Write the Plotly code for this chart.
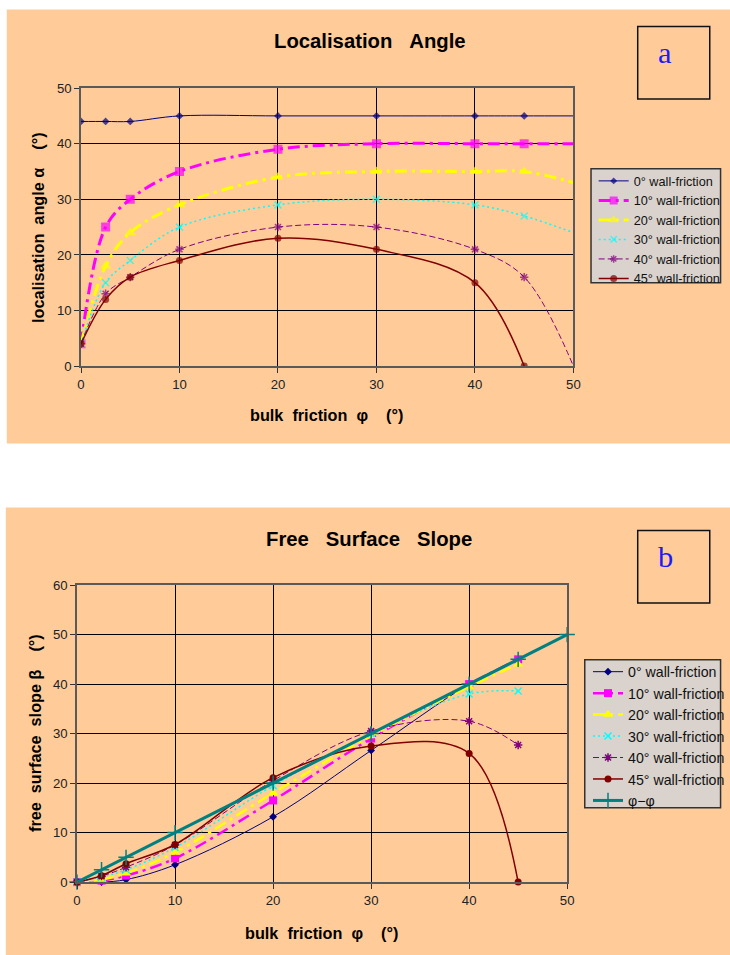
import plotly.graph_objects as go

W, H = 730, 955

# ---------------- data: panel a (localisation angle) ----------------
phi_a = [0, 2.5, 5, 10, 20, 30, 40, 45, 50]
alpha_0 = [44, 44, 44, 45, 45, 45, 45, 45, 45]
alpha_10 = [4, 25, 30, 35, 39, 40, 40, 40, 40]
alpha_20 = [4, 18, 24, 29, 34, 35, 35, 35, 33]
alpha_30 = [4, 15, 19, 25, 29, 30, 29, 27, 24]
alpha_40 = [4, 13, 16, 21, 25, 25, 21, 16, 0]
phi_a45 = [0, 2.5, 5, 10, 20, 30, 40, 45]
alpha_45 = [4, 12, 16, 19, 23, 21, 15, 0]
marked_a = [True, True, True, True, True, True, True, True, False]

# ---------------- data: panel b (free surface slope) ----------------
phi_b = [0, 2.5, 5, 10, 20, 30, 40, 45]
beta_0 = [0, 0, 0.5, 3.5, 13.2, 26.6, 40, 45]
beta_10 = [0, 0.3, 1.3, 4.8, 16.5, 29, 40, 45]
beta_20 = [0, 0.5, 1.8, 6, 18, 29.5, 39.5, 44]
beta_30 = [0, 1, 2.5, 7, 19.5, 30, 38, 38.6]
beta_40 = [0, 1.2, 3, 7.5, 20.5, 30.5, 32.5, 27.7]
beta_45 = [0, 1.3, 3.7, 7.6, 21.1, 27.5, 26, 0]
phi_line = [0, 2.5, 5, 10, 20, 30, 40, 45, 50]
beta_phi = [0, 2.5, 5, 10, 20, 30, 40, 45, 50]

legend_names = ["0° wall-friction", "10° wall-friction", "20° wall-friction",
                "30° wall-friction", "40° wall-friction", "45° wall-friction"]

FONT = "Liberation Sans, Arial, sans-serif"
PEACH = "#FFCC99"

# screen-capture compensation (measured): seen = S * page + O
SX, OX = 0.983, 3.2
SY, OY = 0.9843, 6.6
FS = 1 / 0.985


def px_x(r):
    return ((r - OX) / SX) / W


def px_y(r):
    return 1 - ((r - OY) / SY) / H


def fs(v):
    return round(v * FS, 2)


styles = [
    dict(color="#000080", width=1, dash="solid", symbol="diamond", size=6, mlw=0),
    dict(color="#FF00FF", width=3, dash="12px,5px,3px,5px", symbol="square", size=9, mlw=0),
    dict(color="#FFFF00", width=3, dash="12px,5px,3px,5px", symbol="triangle-up", size=10, mlw=0),
    dict(color="#00FFFF", width=1.5, dash="2px,3px", symbol="x-thin-open", size=7, mlw=1.5),
    dict(color="#800080", width=1, dash="6px,3px", symbol="asterisk-open", size=7, mlw=1.5),
    dict(color="#800000", width=1.5, dash="solid", symbol="circle", size=7, mlw=0),
]

fig = go.Figure()

series_a = [(phi_a, alpha_0), (phi_a, alpha_10), (phi_a, alpha_20),
            (phi_a, alpha_30), (phi_a, alpha_40), (phi_a45, alpha_45)]
for (xs, ys), name, st in zip(series_a, legend_names, styles):
    sizes = [st["size"] if (i >= len(marked_a) or marked_a[i]) else 0 for i in range(len(xs))]
    fig.add_trace(go.Scatter(
        x=xs, y=ys, name=name, mode="lines+markers",
        line=dict(color=st["color"], width=st["width"], dash=st["dash"], shape="spline", smoothing=1),
        marker=dict(symbol=st["symbol"], size=sizes, color=st["color"],
                    line=dict(color=st["color"], width=st["mlw"])),
        xaxis="x", yaxis="y", legend="legend", cliponaxis=True))

series_b = [beta_0, beta_10, beta_20, beta_30, beta_40, beta_45]
for ys, name, st in zip(series_b, legend_names, styles):
    sz = st["size"] - 1 if st["size"] >= 9 else st["size"]
    fig.add_trace(go.Scatter(
        x=phi_b, y=ys, name=name, mode="lines+markers",
        line=dict(color=st["color"], width=st["width"] if st["width"] < 3 else 2.5,
                  dash=st["dash"], shape="spline", smoothing=1),
        marker=dict(symbol=st["symbol"], size=sz, color=st["color"],
                    line=dict(color=st["color"], width=st["mlw"])),
        xaxis="x2", yaxis="y2", legend="legend2", cliponaxis=False))

fig.add_trace(go.Scatter(
    x=phi_line, y=beta_phi, name="φ−φ", mode="lines+markers",
    line=dict(color="#008080", width=3),
    marker=dict(symbol="cross-thin-open", size=11, color="#008080",
                line=dict(color="#008080", width=1.5)),
    xaxis="x2", yaxis="y2", legend="legend2", cliponaxis=False))

axis_common = dict(
    showgrid=True, gridcolor="#000000", gridwidth=1, zeroline=False,
    showline=True, linecolor="#5a5a5a", linewidth=1.5, mirror=True,
    ticks="outside", ticklen=5, tickcolor="#333333", tickwidth=1,
    tickfont=dict(family=FONT, size=fs(13), color="#222222"), dtick=10,
    fixedrange=True,
)

fig.update_layout(
    width=W, height=H, autosize=False,
    margin=dict(l=0, r=0, t=0, b=0),
    paper_bgcolor="white", plot_bgcolor="#C0C0C0",
    hovermode=False,
    xaxis=dict(axis_common, domain=[px_x(80.7), px_x(576.3)], range=[0, 50], anchor="y"),
    yaxis=dict(axis_common, domain=[px_y(365.7), px_y(87.7)], range=[0, 50], anchor="x"),
    xaxis2=dict(axis_common, domain=[px_x(76.7), px_x(570)], range=[0, 50], anchor="y2"),
    yaxis2=dict(axis_common, domain=[px_y(881.7), px_y(584.7)], range=[0, 60], anchor="x2"),
    legend=dict(x=px_x(636) - 40 / W, y=px_y(180.3) + 14.8 / H, xanchor="left", yanchor="top",
                bgcolor="rgba(0,0,0,0)", borderwidth=0,
                font=dict(family=FONT, size=12.7, color="#111111"),
                tracegroupgap=0, itemwidth=30),
    legend2=dict(x=px_x(630.7) - 40 / W, y=px_y(671) + 15.7 / H, xanchor="left", yanchor="top",
                 bgcolor="rgba(0,0,0,0)", borderwidth=0,
                 font=dict(family=FONT, size=14.2, color="#111111"),
                 tracegroupgap=0, itemwidth=30),
    showlegend=True,
)

shapes = [
    dict(type="rect", xref="paper", yref="paper", x0=px_x(6), x1=1.02,
         y0=px_y(443), y1=px_y(9), fillcolor=PEACH, line=dict(width=0), layer="below"),
    dict(type="rect", xref="paper", yref="paper", x0=px_x(5), x1=1.02,
         y0=-0.02, y1=px_y(507), fillcolor=PEACH, line=dict(width=0), layer="below"),
    # legend boxes
    dict(type="rect", xref="paper", yref="paper", x0=px_x(594), x1=1.005,
         y0=px_y(282.3), y1=px_y(168.3), fillcolor="#DAD3CD",
         line=dict(color="#333333", width=1.5), layer="below"),
    dict(type="rect", xref="paper", yref="paper", x0=px_x(587.7), x1=1.005,
         y0=px_y(807.3), y1=px_y(659.3), fillcolor="#DAD3CD",
         line=dict(color="#333333", width=1.5), layer="below"),
    # panel label boxes
    dict(type="rect", xref="paper", yref="paper", x0=px_x(641), x1=px_x(713.5),
         y0=px_y(98.5), y1=px_y(26), line=dict(color="#111111", width=1.5)),
    dict(type="rect", xref="paper", yref="paper", x0=px_x(641), x1=px_x(713.5),
         y0=px_y(602.5), y1=px_y(530), line=dict(color="#111111", width=1.5)),
]
fig.update_layout(shapes=shapes)

NB = "\u00a0"


def ann(text, x, y, size, bold=True, angle=0, family=FONT, color="#000000"):
    t = f"<b>{text}</b>" if bold else text
    return dict(text=t, x=px_x(x), y=px_y(y), xref="paper", yref="paper",
                showarrow=False, textangle=angle, xanchor="center", yanchor="middle",
                font=dict(family=family, size=fs(size), color=color))


annotations = [
    ann("Localisation" + NB * 3 + "Angle", 372, 41, 20),
    ann("Free" + NB * 3 + "Surface" + NB * 3 + "Slope", 370.5, 539, 20),
    ann("bulk" + NB * 2 + "friction" + NB * 2 + "φ" + NB * 4 + "(°)", 328, 415, 16),
    ann("bulk" + NB * 2 + "friction" + NB * 2 + "φ" + NB * 4 + "(°)", 323, 933, 16),
    ann("localisation" + NB * 2 + "angle" + NB + "α" + NB * 4 + "(°)", 38, 227, 16, angle=-90),
    ann("free" + NB * 2 + "surface" + NB * 2 + "slope" + NB + "β" + NB * 4 + "(°)", 35, 733, 16, angle=-90),
    ann("a", 668, 53, 30, bold=False, family="Liberation Serif, Times New Roman, serif", color="#1a1aff"),
    ann("b", 669, 557, 30, bold=False, family="Liberation Serif, Times New Roman, serif", color="#1a1aff"),
]
fig.update_layout(annotations=annotations)

post = (
    "document.documentElement.style.margin='0';"
    "document.documentElement.style.overflow='hidden';"
    "document.body.style.margin='0';document.body.style.padding='0';"
    "document.body.style.overflow='hidden';"
    "window.scrollTo(0,0);"
)

fig.write_html("out.html", config={"displayModeBar": False}, post_script=post)
